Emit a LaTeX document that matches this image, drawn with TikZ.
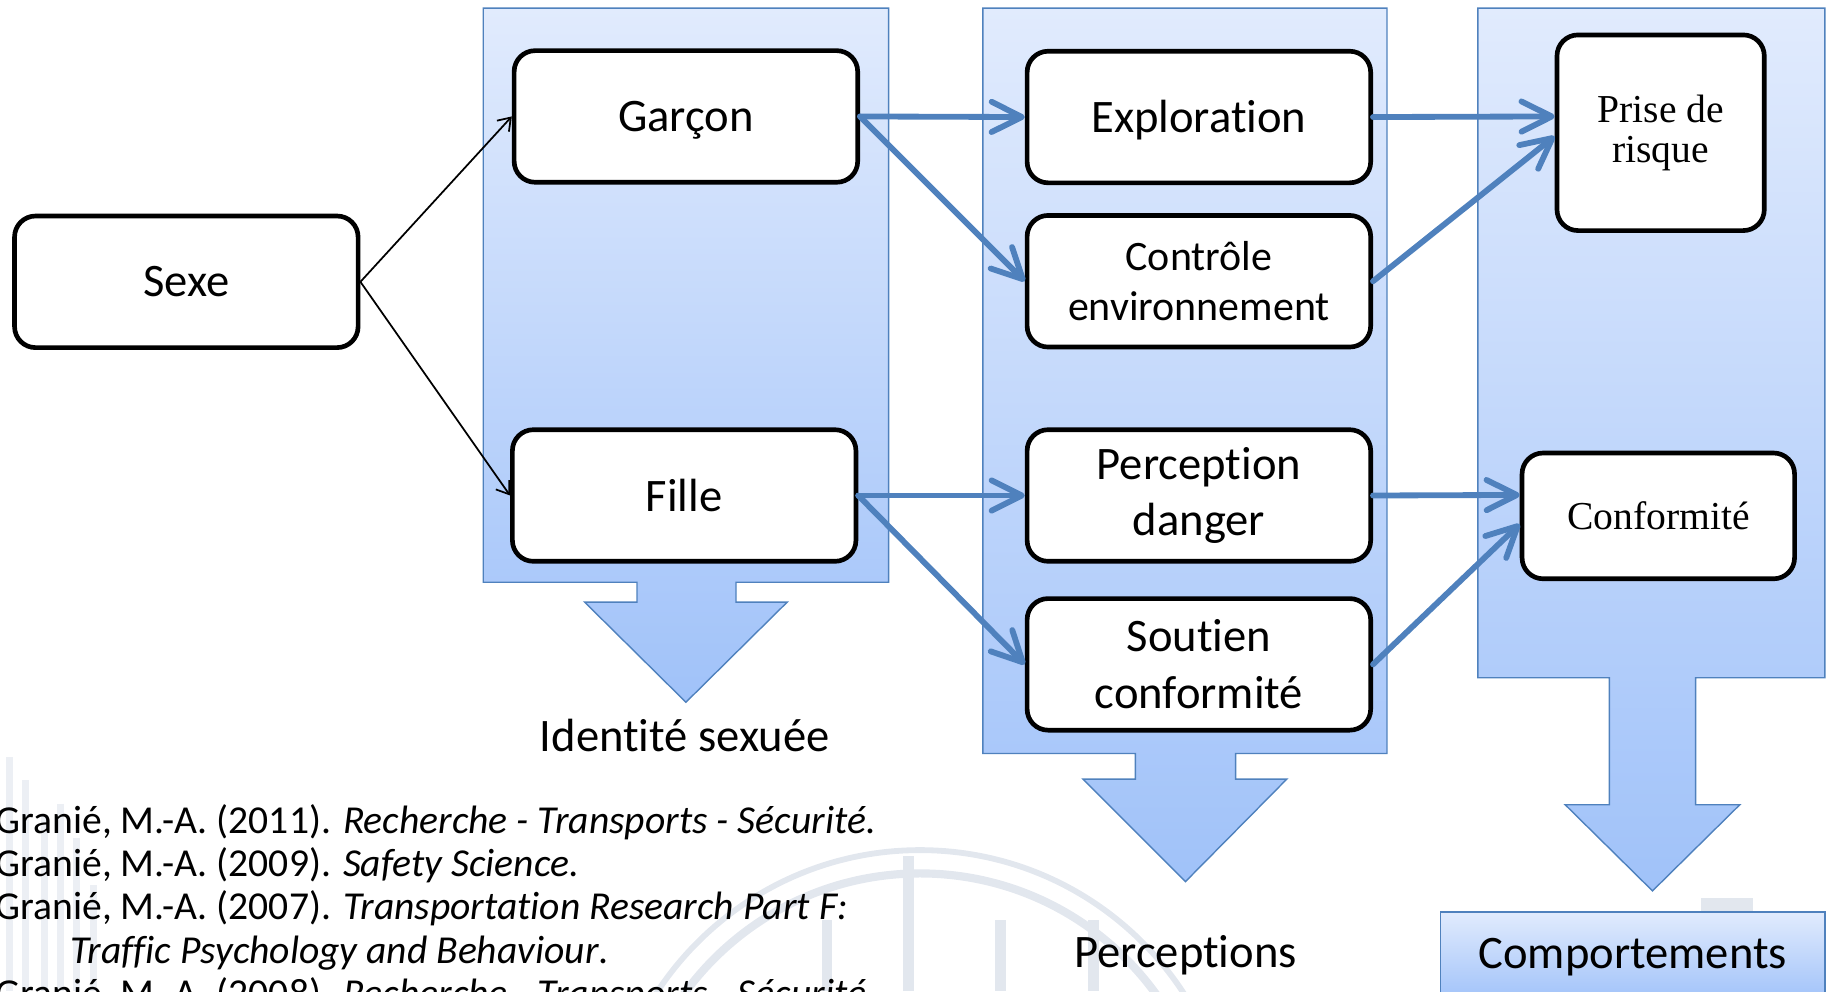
\documentclass[tikz,border=0pt]{standalone}
\usepackage{fontspec}
\setmainfont{Carlito}[Ligatures={TeX,NoCommon}]
\newfontfamily\garafont{Liberation Serif}
\usetikzlibrary{arrows.meta,calc}

\definecolor{accent}{RGB}{79,129,189}
\definecolor{coltop}{RGB}{225,235,253}
\definecolor{colbot}{RGB}{160,194,249}
\definecolor{wmark}{RGB}{226,231,238}
\definecolor{wmlight}{RGB}{236,239,244}

\begin{document}
\begin{tikzpicture}[x=1pt,y=-1pt,
  box/.style={draw=black, line width=4pt, rounded corners=18pt, fill=white, align=center,
    inner sep=0pt, minimum width=295pt, minimum height=113pt, font=\fontsize{40}{48.8}\selectfont},
  serifbox/.style={box, font=\garafont\fontsize{34}{34}\selectfont},
  bluearrow/.style={draw=accent, line width=5pt, line cap=round,
    -{Straight Barb[length=26pt,width=26pt,line cap=round,line join=round]}},
  blackarrow/.style={draw=black, line width=1.5pt, -{Straight Barb[length=10pt,width=14pt]}},
  column/.style={draw=accent, line width=1.2pt, top color=coltop, bottom color=colbot},
  lbl/.style={font=\fontsize{40}{48}\selectfont, anchor=base, inner sep=0pt},
  ref/.style={font=\fontsize{34}{37}\selectfont, anchor=base west, inner sep=0pt}
]
\useasboundingbox (0,0) rectangle (1568,851);
\clip (0,0) rectangle (1568,851);

% faint watermark
\draw[wmark, line width=7pt] (540,1000) arc[start angle=180, end angle=360, radius=250];
\draw[wmark, line width=5pt] (520,1000) arc[start angle=180, end angle=360, radius=270];
\foreach \xx/\yy in {780/735, 859/790, 939/790, 710/790}
  \draw[wmark, line width=9pt] (\xx,\yy) -- (\xx,851);
\foreach \xx/\yy in {8/650, 22/670, 38/700, 52/690, 66/720, 80/760}
  \draw[wmlight, line width=6pt] (\xx,\yy) -- (\xx,851);
\fill[wmark] (1461,771) rectangle (1505,783);

% columns with down arrows
\shade[column] (415,7) -- (763,7) -- (763,500) -- (632,500) -- (632,517) -- (676,517)
  -- (589,603) -- (502,517) -- (547,517) -- (547,500) -- (415,500) -- cycle;
\shade[column] (844,7) -- (1191,7) -- (1191,647) -- (1061,647) -- (1061,669) -- (1105,669)
  -- (1018,757) -- (930,669) -- (975,669) -- (975,647) -- (844,647) -- cycle;
\shade[column] (1269,7) -- (1567,7) -- (1567,582) -- (1456,582) -- (1456,691) -- (1494,691)
  -- (1419,765) -- (1344,691) -- (1382,691) -- (1382,582) -- (1269,582) -- cycle;
\shade[column] (1237,783) rectangle (1567,860);

% boxes
\node[box] (sexe) at (160,242) {Sexe};
\node[box] (garcon) at (589,100) {\raisebox{-3pt}[\height][\depth]{Garçon}};
\node[box] (fille) at (587.5,425.5) {Fille};
\node[box] (expl) at (1029.5,100.5) {\raisebox{-3pt}[\height][\depth]{Exploration}};
\node[box, font=\fontsize{36}{43}\selectfont] (ctrl) at (1029.5,241.5) {Contrôle\\environnement};
\node[box] (perc) at (1029.5,425.5) {Perception\\danger};
\node[box] (sout) at (1029.5,570.5) {Soutien\\conformité};
\node[serifbox, minimum width=178pt, minimum height=168pt] (prise) at (1426,114) {Prise de\\risque};
\node[serifbox, minimum width=234pt, minimum height=108pt] (conf) at (1424,443) {Conformité};

% labels
\node[lbl] (lid) at (588,645) {Identité sexuée};
\node[lbl] (lper) at (1018,831) {Perceptions};
\node[lbl] (lcomp) at (1402,832) {Comportements};

% references
\node[ref] (r1) at (-4,716) {Granié, M.-A. (2011). \textit{Recherche - Transports - Sécurité}.};
\node[ref] (r2) at (-4,753) {Granié, M.-A. (2009). \textit{Safety Science.}};
\node[ref] (r3) at (-4,790) {Granié, M.-A. (2007). \textit{Transportation Research Part F:}};
\node[ref] (r4) at (60,827) {\textit{Traffic Psychology and Behaviour}.};
\node[ref] (r5) at (-4,864) {Granié, M.-A. (2008). \textit{Recherche - Transports - Sécurité}.};

% connectors
\draw[blackarrow] (sexe.east) -- (garcon.west);
\draw[blackarrow] (sexe.east) -- (fille.west);
\draw[bluearrow] (garcon.east) -- (expl.west);
\draw[bluearrow] (garcon.east) -- (ctrl.west);
\draw[bluearrow] (fille.east) -- (perc.west);
\draw[bluearrow] (fille.east) -- (sout.west);
\draw[bluearrow] (expl.east) -- ([yshift=14pt]prise.west);
\draw[bluearrow] (ctrl.east) -- ([yshift=-3pt]prise.west);
\draw[bluearrow] (perc.east) -- ([yshift=18pt]conf.west);
\draw[bluearrow] (sout.east) -- ([yshift=-7pt]conf.west);
\end{tikzpicture}
\end{document}
